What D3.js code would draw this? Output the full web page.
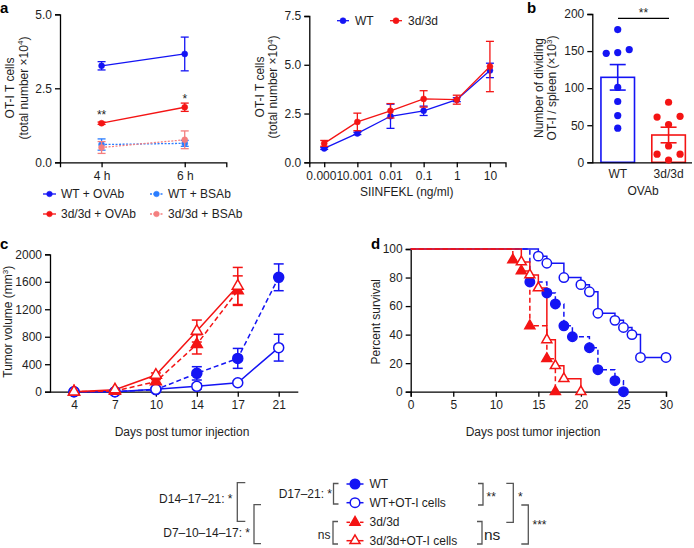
<!DOCTYPE html>
<html><head><meta charset="utf-8">
<script src="https://cdn.jsdelivr.net/npm/d3@7"></script>
<style>
body{margin:0;background:#fff}
svg{font-family:"Liberation Sans",Arial,Helvetica,sans-serif;}
</style></head><body><svg id="chart" width="694" height="548"></svg>
<script>
// ---------------- DATA ----------------
// Panel a (left): OT-I T cells vs time
const aTimes = [4, 6];
const aTimeLabels = ["4 h", "6 h"];
const aSeriesNames = ["WT + OVAb", "3d/3d + OVAb", "WT + BSAb", "3d/3d + BSAb"];
const aWTOVAb = [3.26, 3.66];     const aWTOVAbErr = [0.14, 0.57];
const aKDOVAb = [1.32, 1.86];     const aKDOVAbErr = [0.04, 0.14];
const aWTBSAb = [0.60, 0.64];     const aWTBSAbErr = [0.19, 0.10];
const aKDBSAb = [0.50, 0.76];     const aKDBSAbErr = [0.20, 0.30];
const aSig = ["**", "*"];
const aYTicks = [0, 2.5, 5.0];

// Panel a (right): dose response
const doses = [0.0001, 0.001, 0.01, 0.1, 1, 10];
const doseLabels = ["0.0001", "0.001", "0.01", "0.1", "1", "10"];
const doseWT = [0.71, 1.48, 2.36, 2.64, 3.21, 4.71];
const doseWTErr = [0.05, 0.06, 0.62, 0.24, 0.10, 0.37];
const doseKD = [0.97, 2.07, 2.64, 3.25, 3.21, 4.91];
const doseKDErr = [0.15, 0.45, 0.37, 0.42, 0.23, 1.29];
const doseYTicks = [0, 2.5, 5.0, 7.5];

// Panel b: dividing OT-I per spleen
const bGroups = ["WT", "3d/3d"];
const bMeans = [114.6, 36.8];
const bSEM = [17.2, 10.5];
const bWTDots = [179, 152, 147, 148, 101, 82, 63, 46];
const bKDDots = [81, 62, 61, 51, 22, 11, 11, 3];
const bYTicks = [0, 50, 100, 150, 200];

// Panel c: tumour volume
const cDays = [4, 7, 10, 14, 17, 21];
const cWT      = [0, 0, 30, 267, 485, 1665];
const cWTErr   = [0, 0, 10, 97, 145, 195];
const cWTOT    = [0, 0, 34, 78, 131, 641];
const cWTOTErr = [0, 0, 6, 40, 20, 195];
const cKD      = [0, 10, 146, 689, 1471];
const cKDErr   = [0, 5, 30, 140, 215];
const cKDOT    = [0, 30, 243, 883, 1539];
const cKDOTErr = [0, 10, 30, 160, 270];
const cYTicks = [0, 400, 800, 1200, 1600, 2000];

// Panel d: survival (event days and % surviving after event)
const dWTDays   = [14, 16, 17, 18, 19, 21, 22, 24, 25];
const dWTSurv   = [76.9, 69.2, 61.5, 46.2, 38.5, 30.8, 15.4, 7.7, 0];
const dWTOTDays = [15, 16, 18, 20, 21, 22, 24, 25, 26, 27, 30];
const dWTOTSurv = [95, 90, 80, 75, 70, 55, 50, 45, 40, 24, 24];
const dKDDays   = [12, 13, 14, 16, 17];
const dKDSurv   = [92.3, 84.6, 46.2, 23.1, 0];
const dKDOTDays = [13, 14, 15, 16, 17, 18, 20];
const dKDOTSurv = [90.9, 81.8, 72.7, 36.4, 18.2, 9.1, 0];
const dXTicks = [0, 5, 10, 15, 20, 25, 30];
const dYTicks = [0, 20, 40, 60, 80, 100];

const legendNames = ["WT", "WT+OT-I cells", "3d/3d", "3d/3d+OT-I cells"];

// ---------------- STYLE ----------------
const BLUE = "#1414f4", RED = "#f41414", LBLUE = "#2a7dff", SALMON = "#f47f7f";
const FONT = 12, TXT = "#1e1e1e";
const svg = d3.select("#chart");
svg.append("rect").attr("width", 694).attr("height", 548).attr("fill", "#fff");

function styleAxis(g) {
  g.selectAll("path.domain").attr("stroke", "#000").attr("stroke-width", 1.3);
  g.selectAll(".tick line").attr("stroke", "#000").attr("stroke-width", 1.3);
  g.selectAll("text").attr("font-size", FONT).attr("fill", TXT)
    .attr("font-family", "Liberation Sans, Arial, sans-serif");
}
function errBar(g, x, y1, y2, cap, color, w) {
  g.append("line").attr("x1", x).attr("x2", x).attr("y1", y1).attr("y2", y2)
    .attr("stroke", color).attr("stroke-width", w);
  [y1, y2].forEach(y => g.append("line").attr("x1", x - cap / 2).attr("x2", x + cap / 2)
    .attr("y1", y).attr("y2", y).attr("stroke", color).attr("stroke-width", w));
}
function marker(g, type, x, y, s, color, filled, sw) {
  if (type === "circle") {
    g.append("circle").attr("cx", x).attr("cy", y).attr("r", s)
      .attr("fill", filled ? color : "#fff").attr("stroke", color).attr("stroke-width", sw || 1.5);
  } else {
    const h = s * Math.sqrt(3) / 2;
    const p = `M${x},${y - h * 2 / 3}L${x - s / 2},${y + h / 3}L${x + s / 2},${y + h / 3}Z`;
    g.append("path").attr("d", p).attr("fill", filled ? color : "#fff")
      .attr("stroke", color).attr("stroke-width", sw || 1.5).attr("stroke-linejoin", "miter");
  }
}
function yTitle(x, y, size) {
  return svg.append("text").attr("transform", `translate(${x},${y}) rotate(-90)`)
    .attr("text-anchor", "middle").attr("font-size", size || FONT).attr("fill", TXT);
}
function addSup(t, base, sup, after) {
  t.append("tspan").text(base);
  t.append("tspan").text(sup).attr("font-size", 8).attr("dy", -4.5);
  t.append("tspan").text(after).attr("dy", 4.5);
}
function panelLetter(x, y, s) {
  svg.append("text").attr("x", x).attr("y", y).text(s).attr("font-size", 15)
    .attr("font-weight", "bold").attr("fill", "#000");
}

// ---------------- PANEL a (left) ----------------
{
  const x = d3.scaleLinear().domain([3, 7]).range([60, 226.3]);
  const y = d3.scaleLinear().domain([0, 5]).range([162.3, 14.3]);
  const g = svg.append("g");
  const ga = g.append("g").attr("transform", "translate(0,162.3)")
    .call(d3.axisBottom(x).tickValues(aTimes).tickFormat((d, i) => aTimeLabels[i]).tickSizeOuter(0).tickSize(5).tickPadding(4));
  styleAxis(ga);
  const gy = g.append("g").attr("transform", "translate(60,0)")
    .call(d3.axisLeft(y).tickValues(aYTicks).tickFormat(d3.format(".1f")).tickSizeOuter(0).tickSize(5).tickPadding(3));
  styleAxis(gy);
  const series = [
    {v: aWTBSAb, e: aWTBSAbErr, c: LBLUE, dash: "2,1.5"},
    {v: aKDBSAb, e: aKDBSAbErr, c: SALMON, dash: "2,1.5"},
    {v: aKDOVAb, e: aKDOVAbErr, c: RED, dash: null},
    {v: aWTOVAb, e: aWTOVAbErr, c: BLUE, dash: null}
  ];
  series.forEach(s => {
    const line = d3.line().x((d, i) => x(aTimes[i])).y(d => y(d));
    g.append("path").attr("d", line(s.v)).attr("fill", "none").attr("stroke", s.c)
      .attr("stroke-width", 1.3).attr("stroke-dasharray", s.dash);
    s.v.forEach((v, i) => {
      errBar(g, x(aTimes[i]), y(v + s.e[i]), y(v - s.e[i]), 8, s.c, 1.3);
      marker(g, "circle", x(aTimes[i]), y(v), 3, s.c, true, 0.5);
    });
  });
  aSig.forEach((s, i) => g.append("text").attr("x", x(aTimes[i])).attr("y", i === 0 ? 119 : 103)
    .attr("text-anchor", "middle").attr("font-size", FONT).attr("fill", TXT).text(s));
  const t1 = yTitle(14, 88); t1.text("OT-I T cells");
  const t2 = yTitle(27.5, 88); addSup(t2, "(total number ×10", "4", ")");
  const leg = [
    {n: aSeriesNames[0], c: BLUE, dash: null, lx: 43, ly: 194},
    {n: aSeriesNames[1], c: RED, dash: null, lx: 43, ly: 214},
    {n: aSeriesNames[2], c: LBLUE, dash: "2,1.5", lx: 150, ly: 194},
    {n: aSeriesNames[3], c: SALMON, dash: "2,1.5", lx: 150, ly: 214}
  ];
  leg.forEach(l => {
    g.append("line").attr("x1", l.lx).attr("x2", l.lx + 13).attr("y1", l.ly).attr("y2", l.ly)
      .attr("stroke", l.c).attr("stroke-width", 1.3).attr("stroke-dasharray", l.dash);
    marker(g, "circle", l.lx + 6.5, l.ly, 2.8, l.c, true, 0.5);
    g.append("text").attr("x", l.lx + 18).attr("y", l.ly + 4).attr("font-size", FONT)
      .attr("fill", TXT).text(l.n);
  });
  panelLetter(0, 12.5, "a");
}

// ---------------- PANEL a (right) ----------------
{
  const x = d3.scaleLog().domain([Math.pow(10, -4.45), Math.pow(10, 1.47)]).range([309.3, 505.5]);
  const y = d3.scaleLinear().domain([0, 7.5]).range([162.3, 16]);
  const g = svg.append("g");
  const ga = g.append("g").attr("transform", "translate(0,162.3)")
    .call(d3.axisBottom(x).tickValues(doses).tickFormat((d, i) => doseLabels[i]).tickSizeOuter(0).tickSize(5).tickPadding(4));
  styleAxis(ga);
  const gy = g.append("g").attr("transform", "translate(309.3,0)")
    .call(d3.axisLeft(y).tickValues(doseYTicks).tickFormat(d3.format(".1f")).tickSizeOuter(0).tickSize(5).tickPadding(3));
  styleAxis(gy);
  const series = [
    {v: doseWT, e: doseWTErr, c: BLUE},
    {v: doseKD, e: doseKDErr, c: RED}
  ];
  series.forEach(s => {
    const line = d3.line().x((d, i) => x(doses[i])).y(d => y(d));
    g.append("path").attr("d", line(s.v)).attr("fill", "none").attr("stroke", s.c).attr("stroke-width", 1.3);
    s.v.forEach((v, i) => {
      errBar(g, x(doses[i]), y(v + s.e[i]), y(v - s.e[i]), 8, s.c, 1.3);
      marker(g, "circle", x(doses[i]), y(v), 3, s.c, true, 0.5);
    });
  });
  g.append("text").attr("x", 406.7).attr("y", 196).attr("text-anchor", "middle")
    .attr("font-size", FONT).attr("fill", TXT).text("SIINFEKL (ng/ml)");
  const t1 = yTitle(263.5, 87); t1.text("OT-I T cells");
  const t2 = yTitle(277, 87); addSup(t2, "(total number ×10", "4", ")");
  [{n: "WT", c: BLUE, lx: 337}, {n: "3d/3d", c: RED, lx: 390}].forEach(l => {
    g.append("line").attr("x1", l.lx).attr("x2", l.lx + 12).attr("y1", 20.7).attr("y2", 20.7)
      .attr("stroke", l.c).attr("stroke-width", 1.3);
    marker(g, "circle", l.lx + 6, 20.7, 3, l.c, true, 0.5);
    g.append("text").attr("x", l.lx + 18).attr("y", 24.7).attr("font-size", FONT).attr("fill", TXT).text(l.n);
  });
}

// ---------------- PANEL b ----------------
{
  const x = d3.scaleBand().domain(bGroups).range([592.3, 694]).paddingInner(0.34).paddingOuter(0.17);
  const y = d3.scaleLinear().domain([0, 200]).range([162.3, 14]);
  const g = svg.append("g");
  const colors = [BLUE, RED];
  bGroups.forEach((grp, i) => {
    g.append("rect").attr("x", x(grp)).attr("y", y(bMeans[i])).attr("width", x.bandwidth())
      .attr("height", y(0) - y(bMeans[i])).attr("fill", "#fff").attr("stroke", colors[i]).attr("stroke-width", 1.6);
  });
  const ga = g.append("g").attr("transform", "translate(0,162.3)")
    .call(d3.axisBottom(x).tickSizeOuter(0).tickSize(0).tickPadding(7));
  styleAxis(ga);
  ga.select("path.domain").attr("d", "M592.3,0.5H692");
  const gy = g.append("g").attr("transform", "translate(592.3,0)")
    .call(d3.axisLeft(y).tickValues(bYTicks).tickSizeOuter(0).tickSize(5).tickPadding(3));
  styleAxis(gy);
  const spacing = 11.5;
  [bWTDots, bKDDots].forEach((dots, gi) => {
    const cx = x(bGroups[gi]) + x.bandwidth() / 2;
    const sorted = dots.slice().sort((a, b) => a - b);
    const groups = [];
    sorted.forEach(v => {
      const last = groups[groups.length - 1];
      if (last && v - last[last.length - 1] < 8) last.push(v); else groups.push([v]);
    });
    groups.forEach(gr => {
      const offs = gr.length === 1 ? [0] : gr.length === 2 ? [-1, 1] : gr.map((d, k) => k - (gr.length - 1) / 2);
      gr.forEach((v, k) => g.append("circle").attr("cx", cx + offs[k] * spacing).attr("cy", y(v))
        .attr("r", 3.6).attr("fill", colors[gi]));
    });
    errBar(g, cx, y(bMeans[gi] + bSEM[gi]), y(bMeans[gi] - bSEM[gi]), 16, colors[gi], 1.6);
  });
  g.append("line").attr("x1", 618).attr("x2", 669).attr("y1", 18.3).attr("y2", 18.3).attr("stroke", "#000").attr("stroke-width", 1.2);
  g.append("text").attr("x", 643.5).attr("y", 16.5).attr("text-anchor", "middle").attr("font-size", FONT).attr("fill", TXT).text("**");
  g.append("text").attr("x", 643).attr("y", 195).attr("text-anchor", "middle").attr("font-size", FONT).attr("fill", TXT).text("OVAb");
  const t1 = yTitle(542.5, 88); t1.text("Number of dividing");
  const t2 = yTitle(556, 88); addSup(t2, "OT-I / spleen (×10", "3", ")");
  panelLetter(527, 13, "b");
}

// ---------------- PANEL c ----------------
{
  const x = d3.scalePoint().domain(cDays).range([74, 278.7]);
  const y = d3.scaleLinear().domain([0, 2000]).range([391.7, 254.3]);
  const g = svg.append("g");
  const ga = g.append("g").attr("transform", "translate(0,391.7)")
    .call(d3.axisBottom(x).tickSizeOuter(0).tickSize(5).tickPadding(4));
  styleAxis(ga);
  ga.select("path.domain").attr("d", "M50,0.5H298.3");
  const gy = g.append("g").attr("transform", "translate(50,0)")
    .call(d3.axisLeft(y).tickValues(cYTicks).tickFormat(d3.format("d")).tickSizeOuter(0).tickSize(5).tickPadding(3));
  styleAxis(gy);
  const series = [
    {v: cWT, e: cWTErr, c: BLUE, dash: "5,3", m: "circle", f: true},
    {v: cWTOT, e: cWTOTErr, c: BLUE, dash: null, m: "circle", f: false},
    {v: cKD, e: cKDErr, c: RED, dash: "5,3", m: "tri", f: true},
    {v: cKDOT, e: cKDOTErr, c: RED, dash: null, m: "tri", f: false}
  ];
  series.forEach(s => {
    const line = d3.line().x((d, i) => x(cDays[i])).y(d => y(d));
    g.append("path").attr("d", line(s.v)).attr("fill", "none").attr("stroke", s.c)
      .attr("stroke-width", 1.5).attr("stroke-dasharray", s.dash);
    s.v.forEach((v, i) => { if (s.e[i] > 0) errBar(g, x(cDays[i]), y(v + s.e[i]), y(v - s.e[i]), 10, s.c, 1.5); });
  });
  series.forEach(s => s.v.forEach((v, i) =>
    marker(g, s.m, x(cDays[i]), y(v), s.m === "circle" ? 5 : 11, s.c, s.f, 1.5)));
  g.append("text").attr("x", 182).attr("y", 436).attr("text-anchor", "middle").attr("font-size", FONT).attr("fill", TXT).text("Days post tumor injection");
  const t = yTitle(12, 321.7); addSup(t, "Tumor volume (mm", "3", ")");
  panelLetter(0, 249, "c");
}

// ---------------- PANEL d ----------------
{
  const x = d3.scaleLinear().domain([0, 30]).range([410.7, 666]);
  const y = d3.scaleLinear().domain([0, 100]).range([391.7, 249]);
  const g = svg.append("g");
  const ga = g.append("g").attr("transform", "translate(0,391.7)")
    .call(d3.axisBottom(x).tickValues(dXTicks).tickSizeOuter(0).tickSize(5).tickPadding(4));
  styleAxis(ga);
  const gy = g.append("g").attr("transform", "translate(410.7,0)")
    .call(d3.axisLeft(y).tickValues(dYTicks).tickSizeOuter(0).tickSize(5).tickPadding(3));
  styleAxis(gy);
  const series = [
    {d: dWTDays, s: dWTSurv, c: BLUE, dash: "5,3", m: "circle", f: true},
    {d: dWTOTDays, s: dWTOTSurv, c: BLUE, dash: null, m: "circle", f: false},
    {d: dKDDays, s: dKDSurv, c: RED, dash: "5,3", m: "tri", f: true},
    {d: dKDOTDays, s: dKDOTSurv, c: RED, dash: null, m: "tri", f: false}
  ];
  series.forEach(s => {
    let p = `M${x(0)},${y(100)}`;
    s.d.forEach((t, i) => { p += `H${x(t)}V${y(s.s[i])}`; });
    g.append("path").attr("d", p).attr("fill", "none").attr("stroke", s.c)
      .attr("stroke-width", 1.5).attr("stroke-dasharray", s.dash);
  });
  series.forEach(s => s.d.forEach((t, i) =>
    marker(g, s.m, x(t), y(s.s[i]), s.m === "circle" ? 4.7 : 10, s.c, s.f, 1.5)));
  g.append("text").attr("x", 533).attr("y", 436).attr("text-anchor", "middle").attr("font-size", FONT).attr("fill", TXT).text("Days post tumor injection");
  const t = yTitle(379.5, 321.7); t.text("Percent survival");
  panelLetter(371, 249, "d");
}

// ---------------- Bottom legend ----------------
{
  const g = svg.append("g");
  const rows = [484, 502.7, 522.3, 540.7];
  const spec = [
    {c: BLUE, m: "circle", f: true, dash: true},
    {c: BLUE, m: "circle", f: false, dash: false},
    {c: RED, m: "tri", f: true, dash: true},
    {c: RED, m: "tri", f: false, dash: false}
  ];
  spec.forEach((s, i) => {
    const yy = rows[i];
    if (s.dash) {
      g.append("line").attr("x1", 346.5).attr("x2", 350).attr("y1", yy).attr("y2", yy).attr("stroke", s.c).attr("stroke-width", 1.5);
      g.append("line").attr("x1", 360).attr("x2", 363.5).attr("y1", yy).attr("y2", yy).attr("stroke", s.c).attr("stroke-width", 1.5);
    } else {
      g.append("line").attr("x1", 346.5).attr("x2", 363.5).attr("y1", yy).attr("y2", yy).attr("stroke", s.c).attr("stroke-width", 1.5);
    }
    marker(g, s.m, 355, yy, s.m === "circle" ? 4.8 : 10, s.c, s.f, 1.5);
    g.append("text").attr("x", 369.5).attr("y", yy + 4).attr("font-size", FONT).attr("fill", TXT).text(legendNames[i]);
  });
  const BR = "#555";
  function lbr(x, y1, y2, w) {
    g.append("path").attr("d", `M${x + w},${y1}H${x}V${y2}H${x + w}`).attr("fill", "none").attr("stroke", BR).attr("stroke-width", 1.3);
  }
  function rbr(x, y1, y2, w) {
    g.append("path").attr("d", `M${x - w},${y1}H${x}V${y2}H${x - w}`).attr("fill", "none").attr("stroke", BR).attr("stroke-width", 1.3);
  }
  function txt(x, y, s, anchor, size) {
    g.append("text").attr("x", x).attr("y", y).attr("text-anchor", anchor || "start")
      .attr("font-size", size || FONT).attr("fill", TXT).text(s);
  }
  lbr(237.3, 482.7, 521.3, 8);
  lbr(254, 504.7, 543.7, 7);
  txt(232.5, 502.5, "D14–17–21: *", "end");
  txt(250, 536.5, "D7–10–14–17: *", "end");
  lbr(333.5, 483.5, 504, 5);
  txt(332, 498, "D17–21: *", "end");
  lbr(333, 521.5, 544, 5);
  txt(330.5, 538.5, "ns", "end");
  rbr(483, 483.5, 505, 5);
  txt(486.5, 501, "**");
  rbr(482, 521.5, 544, 5);
  txt(484, 539.5, "ns", "start", 15.5);
  rbr(513.3, 483.3, 522.3, 7);
  txt(518, 501, "*");
  rbr(528.3, 505, 544, 7);
  txt(532.5, 528.5, "***");
}
</script></body></html>
